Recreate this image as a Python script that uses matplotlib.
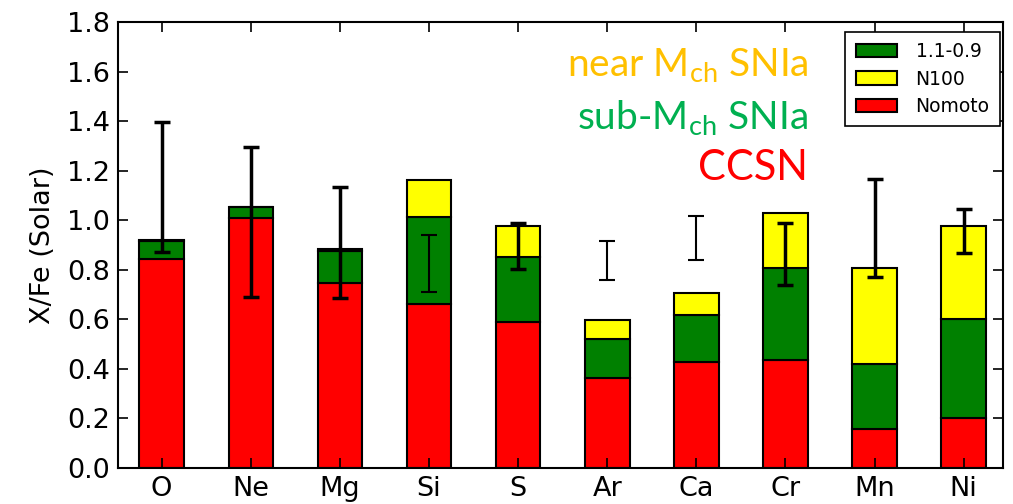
import numpy as np
import matplotlib
matplotlib.use("Agg")
import matplotlib.pyplot as plt

# element abundance ratios, stacked contributions
elements = ["O", "Ne", "Mg", "Si", "S", "Ar", "Ca", "Cr", "Mn", "Ni"]
nomoto = [0.843, 1.008, 0.748, 0.662, 0.588, 0.365, 0.427, 0.436, 0.156, 0.200]
sub_mch = [0.073, 0.044, 0.129, 0.350, 0.262, 0.156, 0.190, 0.370, 0.264, 0.400]
n100 = [0.004, 0.003, 0.007, 0.150, 0.127, 0.076, 0.088, 0.222, 0.386, 0.377]

# observed ranges (low, high) of the error bars
err_lo = [0.873, 0.691, 0.685, 0.712, 0.802, 0.759, 0.839, 0.738, 0.772, 0.869]
err_hi = [1.397, 1.297, 1.133, 0.940, 0.987, 0.917, 1.017, 0.987, 1.166, 1.044]
thick = [True, True, True, False, True, False, False, True, True, True]

fig = plt.figure(figsize=(10.13, 5.04), dpi=100)
ax = fig.add_axes([0.1165, 0.0714, 0.8735, 0.8849])
ax.set_axisbelow(False)

x = np.arange(len(elements))
nomoto = np.array(nomoto)
sub_mch = np.array(sub_mch)
n100 = np.array(n100)

b1 = ax.bar(x, nomoto, 0.5, color="#ff0000", edgecolor="black", linewidth=1.5, label="Nomoto", zorder=2)
b2 = ax.bar(x, sub_mch, 0.5, bottom=nomoto, color="#008000", edgecolor="black", linewidth=1.5, label="1.1-0.9", zorder=2)
b3 = ax.bar(x, n100, 0.5, bottom=nomoto + sub_mch, color="#ffff00", edgecolor="black", linewidth=1.5, label="N100", zorder=2)

for i in range(len(elements)):
    mid = (err_lo[i] + err_hi[i]) / 2.0
    half = (err_hi[i] - err_lo[i]) / 2.0
    lw = 2.5 if thick[i] else 1.5
    ax.errorbar(x[i], mid, yerr=half, fmt="none", ecolor="black", elinewidth=lw,
                capsize=5.5, capthick=lw, zorder=3)

ax.set_xlim(-0.49, 9.44)
ax.set_ylim(0, 1.8)
ax.set_xticks(x)
ax.set_xticklabels(elements)
ax.set_yticks(np.arange(0, 1.81, 0.2))
ax.set_yticklabels(["%.1f" % v for v in np.arange(0, 1.81, 0.2)])
ax.tick_params(direction="in", top=True, right=True, length=7, width=1.2, labelsize=19.5, pad=6)
for s in ax.spines.values():
    s.set_linewidth(1.5)
ax.set_ylabel("X/Fe (Solar)", fontsize=19.5, labelpad=8)

leg = ax.legend(handles=[b2, b3, b1], loc="upper right", fontsize=13.5, fancybox=False,
                edgecolor="black", framealpha=1, borderpad=0.55, labelspacing=0.45,
                handlelength=2.2, handletextpad=1.0, borderaxespad=0,
                bbox_to_anchor=(0.9966, 0.978))
leg.get_frame().set_linewidth(1.2)

tf = "Lato"
ax.text(0.78, 0.877, r"near M$_{\mathregular{ch}}$ SNIa", transform=ax.transAxes, ha="right", va="baseline",
        fontsize=28, color="#ffc000", family=tf)
ax.text(0.78, 0.758, r"sub-M$_{\mathregular{ch}}$ SNIa", transform=ax.transAxes, ha="right", va="baseline",
        fontsize=28, color="#00b050", family=tf)
ax.text(0.78, 0.646, "CCSN", transform=ax.transAxes, ha="right", va="baseline",
        fontsize=30, color="#ff0000", family=tf)

fig.savefig("out.png", dpi=100)
